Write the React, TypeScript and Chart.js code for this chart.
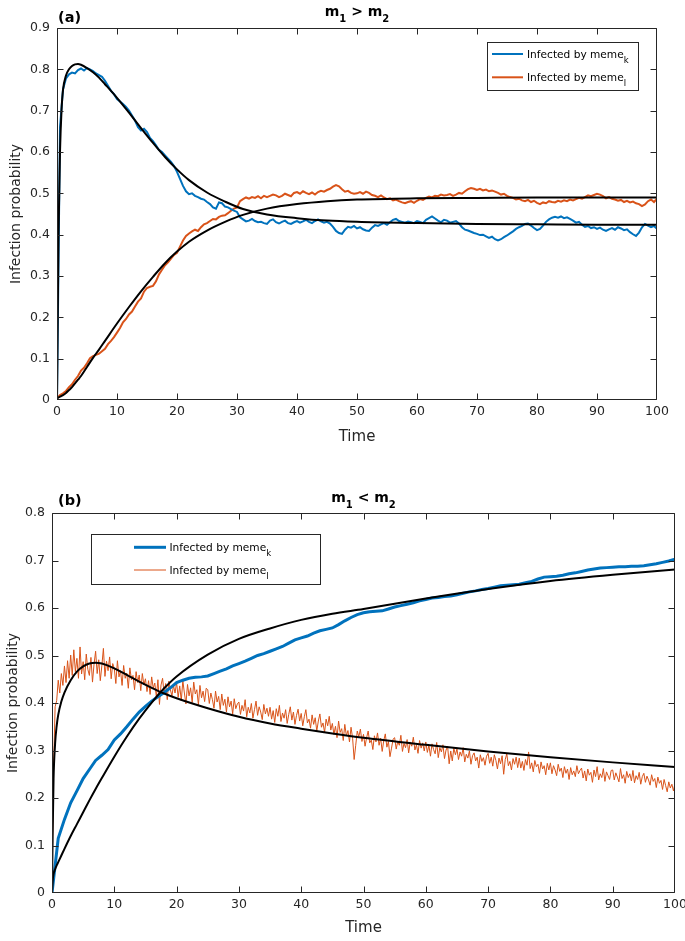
import React, { useEffect, useRef } from 'react';
import { Chart, registerables } from 'chart.js';

Chart.register(...registerables);

// ---------- DATA ----------
const X_MIN = 0;
const X_MAX = 100;
const X_STEP = 10;

// Panel (a): stochastic simulation, sampled every 0.5 time units
const A_DT = 0.5;
const A_BLUE = [
  0.000, 0.660, 0.752, 0.778, 0.788, 0.792, 0.790, 0.798, 0.802, 0.797,
  0.803, 0.800, 0.796, 0.790, 0.786, 0.782, 0.772, 0.760, 0.748, 0.740,
  0.728, 0.722, 0.716, 0.709, 0.700, 0.688, 0.676, 0.660, 0.652, 0.656,
  0.648, 0.634, 0.626, 0.616, 0.605, 0.600, 0.592, 0.584, 0.576, 0.566,
  0.552, 0.535, 0.518, 0.505, 0.498, 0.500, 0.494, 0.491, 0.487, 0.485,
  0.479, 0.474, 0.466, 0.463, 0.478, 0.476, 0.468, 0.466, 0.462, 0.458,
  0.455, 0.442, 0.437, 0.432, 0.434, 0.438, 0.433, 0.430, 0.431, 0.428,
  0.426, 0.434, 0.437, 0.430, 0.427, 0.431, 0.434, 0.428, 0.426, 0.430,
  0.433, 0.429, 0.432, 0.436, 0.431, 0.428, 0.433, 0.437, 0.432, 0.429,
  0.431, 0.427, 0.419, 0.409, 0.404, 0.402, 0.412, 0.419, 0.417, 0.421,
  0.415, 0.418, 0.413, 0.410, 0.409, 0.417, 0.423, 0.421, 0.425, 0.428,
  0.424, 0.430, 0.436, 0.438, 0.433, 0.431, 0.429, 0.432, 0.430, 0.428,
  0.433, 0.431, 0.428, 0.436, 0.440, 0.444, 0.439, 0.434, 0.430, 0.436,
  0.434, 0.429, 0.431, 0.433, 0.427, 0.418, 0.412, 0.410, 0.407, 0.404,
  0.402, 0.399, 0.400, 0.396, 0.392, 0.395, 0.389, 0.386, 0.389, 0.394,
  0.398, 0.403, 0.408, 0.414, 0.418, 0.421, 0.426, 0.427, 0.422, 0.416,
  0.411, 0.414, 0.422, 0.431, 0.437, 0.441, 0.443, 0.441, 0.444, 0.440,
  0.442, 0.438, 0.434, 0.429, 0.431, 0.424, 0.419, 0.421, 0.416, 0.418,
  0.414, 0.417, 0.412, 0.409, 0.413, 0.416, 0.412, 0.418, 0.415, 0.411,
  0.413, 0.406, 0.401, 0.397, 0.405, 0.418, 0.426, 0.422, 0.418, 0.421,
  0.414,
];
const A_ORANGE = [
  0.004, 0.012, 0.016, 0.022, 0.031, 0.038, 0.049, 0.058, 0.071, 0.078,
  0.089, 0.101, 0.106, 0.109, 0.112, 0.118, 0.124, 0.135, 0.143, 0.152,
  0.163, 0.174, 0.188, 0.196, 0.207, 0.214, 0.226, 0.238, 0.246, 0.262,
  0.271, 0.274, 0.276, 0.287, 0.304, 0.315, 0.326, 0.333, 0.342, 0.351,
  0.356, 0.371, 0.386, 0.397, 0.403, 0.408, 0.412, 0.409, 0.418, 0.425,
  0.428, 0.433, 0.438, 0.437, 0.443, 0.446, 0.447, 0.452, 0.458, 0.463,
  0.466, 0.481, 0.486, 0.490, 0.487, 0.491, 0.489, 0.493, 0.488, 0.494,
  0.491, 0.494, 0.497, 0.495, 0.491, 0.494, 0.499, 0.496, 0.493, 0.501,
  0.503, 0.499, 0.505, 0.501, 0.498, 0.502, 0.497, 0.503, 0.506, 0.504,
  0.508, 0.511, 0.516, 0.520, 0.517, 0.510, 0.504, 0.506, 0.501, 0.499,
  0.500, 0.503, 0.499, 0.504, 0.501, 0.496, 0.494, 0.491, 0.495, 0.490,
  0.486, 0.488, 0.483, 0.485, 0.481, 0.478, 0.476, 0.479, 0.481, 0.477,
  0.482, 0.486, 0.484, 0.489, 0.492, 0.490, 0.494, 0.493, 0.497, 0.495,
  0.496, 0.498, 0.494, 0.497, 0.501, 0.499, 0.505, 0.510, 0.513, 0.511,
  0.508, 0.511, 0.507, 0.509, 0.505, 0.507, 0.504, 0.501, 0.497, 0.499,
  0.494, 0.491, 0.489, 0.485, 0.487, 0.483, 0.481, 0.484, 0.479, 0.482,
  0.477, 0.474, 0.478, 0.476, 0.481, 0.479, 0.478, 0.482, 0.480, 0.483,
  0.481, 0.485, 0.483, 0.486, 0.489, 0.487, 0.491, 0.495, 0.493, 0.496,
  0.499, 0.497, 0.493, 0.488, 0.491, 0.487, 0.485, 0.482, 0.484, 0.479,
  0.482, 0.478, 0.480, 0.476, 0.474, 0.469, 0.473, 0.481, 0.485, 0.479,
  0.487,
];
// Panel (a): mean-field (ODE) curves
const A_BLACK_T = [0, 0.25, 0.5, 0.75, 1, 1.5, 2, 2.5, 3, 3.5, 4, 5, 6, 7, 8, 10, 12, 14, 16, 18, 20, 22, 25, 28, 31, 35, 40, 45, 50, 60, 70, 80, 90, 100];
const A_BLACK_K = [0, 0.40, 0.60, 0.70, 0.75, 0.785, 0.80, 0.808, 0.812, 0.813, 0.811, 0.803, 0.793, 0.780, 0.764, 0.731, 0.695, 0.658, 0.622, 0.588, 0.558, 0.532, 0.502, 0.480, 0.462, 0.449, 0.440, 0.434, 0.431, 0.428, 0.426, 0.425, 0.424, 0.424];
const A_BLACK_L = [0.005, 0.006, 0.008, 0.010, 0.012, 0.017, 0.024, 0.031, 0.040, 0.049, 0.058, 0.080, 0.102, 0.122, 0.143, 0.185, 0.225, 0.263, 0.298, 0.331, 0.359, 0.383, 0.410, 0.431, 0.448, 0.463, 0.474, 0.481, 0.485, 0.488, 0.489, 0.490, 0.490, 0.490];

// Panel (b): stochastic simulation
const B_BLUE_DT = 1;
const B_BLUE = [
  0.000, 0.115, 0.155, 0.190, 0.215, 0.241, 0.260, 0.279, 0.290, 0.302,
  0.322, 0.335, 0.350, 0.366, 0.381, 0.393, 0.404, 0.413, 0.422, 0.432,
  0.443, 0.448, 0.452, 0.454, 0.455, 0.457, 0.462, 0.467, 0.472, 0.478,
  0.483, 0.488, 0.494, 0.500, 0.504, 0.509, 0.514, 0.519, 0.526, 0.533,
  0.537, 0.541, 0.547, 0.552, 0.555, 0.558, 0.565, 0.573, 0.580, 0.586,
  0.590, 0.592, 0.593, 0.594, 0.598, 0.602, 0.605, 0.608, 0.611, 0.615,
  0.618, 0.621, 0.622, 0.624, 0.625, 0.628, 0.631, 0.634, 0.636, 0.639,
  0.641, 0.644, 0.647, 0.648, 0.649, 0.650, 0.653, 0.656, 0.661, 0.665,
  0.666, 0.667, 0.669, 0.672, 0.674, 0.677, 0.680, 0.682, 0.684, 0.685,
  0.686, 0.687, 0.687, 0.688, 0.688, 0.689, 0.691, 0.693, 0.696, 0.699,
  0.703,
];
const B_ORANGE_DT = 0.25;
const B_ORANGE = [
  0.000, 0.265, 0.392, 0.405, 0.448, 0.421, 0.462, 0.437, 0.478, 0.443, 0.489, 0.452, 0.501, 0.458, 0.512, 0.466, 0.494, 0.452, 0.518, 0.461,
  0.487, 0.449, 0.503, 0.471, 0.458, 0.496, 0.444, 0.482, 0.509, 0.462, 0.491, 0.447, 0.478, 0.515, 0.456, 0.488, 0.468, 0.497, 0.451, 0.483,
  0.472, 0.441, 0.489, 0.455, 0.468, 0.437, 0.479, 0.452, 0.463, 0.431, 0.474, 0.449, 0.458, 0.428, 0.466, 0.443, 0.459, 0.426, 0.462, 0.438,
  0.451, 0.424, 0.447, 0.418, 0.455, 0.431, 0.442, 0.413, 0.449, 0.397, 0.438, 0.452, 0.419, 0.441, 0.407, 0.446, 0.428, 0.415, 0.437, 0.421,
  0.443, 0.412, 0.436, 0.405, 0.447, 0.421, 0.398, 0.439, 0.415, 0.432, 0.401, 0.444, 0.419, 0.428, 0.396, 0.437, 0.411, 0.425, 0.403, 0.431,
  0.428, 0.399, 0.421, 0.407, 0.389, 0.425, 0.402, 0.414, 0.386, 0.419, 0.395, 0.408, 0.381, 0.413, 0.392, 0.404, 0.377, 0.409, 0.388, 0.398,
  0.402, 0.376, 0.395, 0.383, 0.407, 0.371, 0.391, 0.379, 0.399, 0.368, 0.386, 0.404, 0.374, 0.392, 0.381, 0.365, 0.397, 0.377, 0.389, 0.372,
  0.391, 0.366, 0.384, 0.359, 0.388, 0.372, 0.395, 0.361, 0.379, 0.368, 0.386, 0.357, 0.376, 0.392, 0.364, 0.381, 0.355, 0.374, 0.387, 0.362,
  0.378, 0.352, 0.371, 0.386, 0.358, 0.366, 0.347, 0.375, 0.355, 0.369, 0.341, 0.362, 0.377, 0.349, 0.358, 0.338, 0.366, 0.352, 0.372, 0.343,
  0.357, 0.334, 0.351, 0.327, 0.362, 0.338, 0.346, 0.321, 0.355, 0.331, 0.342, 0.318, 0.349, 0.326, 0.281, 0.311, 0.341, 0.329, 0.345, 0.319,
  0.334, 0.309, 0.327, 0.341, 0.316, 0.322, 0.302, 0.331, 0.318, 0.337, 0.311, 0.326, 0.298, 0.321, 0.335, 0.307, 0.319, 0.287, 0.305, 0.324,
  0.327, 0.303, 0.319, 0.311, 0.332, 0.298, 0.315, 0.306, 0.323, 0.295, 0.318, 0.309, 0.328, 0.301, 0.312, 0.294, 0.321, 0.305, 0.316, 0.299,
  0.318, 0.296, 0.311, 0.288, 0.314, 0.302, 0.293, 0.317, 0.285, 0.306, 0.297, 0.312, 0.283, 0.301, 0.309, 0.272, 0.299, 0.278, 0.305, 0.291,
  0.303, 0.281, 0.297, 0.288, 0.306, 0.276, 0.292, 0.284, 0.299, 0.271, 0.289, 0.295, 0.278, 0.286, 0.263, 0.291, 0.277, 0.285, 0.269, 0.288,
  0.294, 0.273, 0.286, 0.267, 0.291, 0.279, 0.261, 0.284, 0.272, 0.289, 0.250, 0.281, 0.293, 0.268, 0.277, 0.259, 0.283, 0.271, 0.286, 0.264,
  0.284, 0.263, 0.277, 0.258, 0.281, 0.269, 0.297, 0.262, 0.274, 0.255, 0.279, 0.266, 0.271, 0.252, 0.276, 0.261, 0.268, 0.249, 0.273, 0.259,
  0.274, 0.251, 0.268, 0.259, 0.247, 0.271, 0.256, 0.263, 0.243, 0.266, 0.252, 0.261, 0.239, 0.264, 0.249, 0.257, 0.245, 0.268, 0.251, 0.258,
  0.263, 0.242, 0.257, 0.236, 0.261, 0.248, 0.254, 0.233, 0.259, 0.245, 0.266, 0.238, 0.251, 0.243, 0.262, 0.235, 0.255, 0.247, 0.239, 0.258,
  0.259, 0.238, 0.253, 0.244, 0.234, 0.262, 0.241, 0.249, 0.231, 0.256, 0.243, 0.251, 0.236, 0.258, 0.232, 0.247, 0.239, 0.254, 0.229, 0.245,
  0.252, 0.233, 0.246, 0.238, 0.227, 0.249, 0.235, 0.241, 0.222, 0.244, 0.231, 0.237, 0.218, 0.239, 0.226, 0.213, 0.234, 0.221, 0.229, 0.215,
  0.231,
];
const B_BLACK_T = [0, 0.1, 0.25, 0.5, 0.75, 1, 1.5, 2, 3, 4, 5, 6, 7, 8, 10, 12, 14, 16, 18, 20, 25, 30, 35, 40, 45, 50, 60, 70, 80, 90, 100];
const B_BLACK_K = [0, 0.025, 0.04, 0.05, 0.058, 0.065, 0.079, 0.093, 0.12, 0.145, 0.17, 0.195, 0.219, 0.242, 0.287, 0.329, 0.367, 0.401, 0.431, 0.456, 0.502, 0.535, 0.557, 0.575, 0.588, 0.598, 0.62, 0.64, 0.657, 0.67, 0.681];
const B_BLACK_L = [0, 0.12, 0.24, 0.315, 0.352, 0.375, 0.403, 0.422, 0.448, 0.466, 0.477, 0.483, 0.485, 0.483, 0.473, 0.459, 0.445, 0.432, 0.42, 0.41, 0.389, 0.371, 0.357, 0.346, 0.336, 0.327, 0.312, 0.298, 0.286, 0.275, 0.265];

const A_Y_MAX = 0.9;
const B_Y_MAX = 0.8;
const Y_STEP = 0.1;

const LEGEND_LABEL = 'Infected by meme';
const LEGEND_SUBS = ['k', 'l'];
const X_TITLE = 'Time';
const Y_TITLE = 'Infection probability';

// ---------- STYLE ----------
const BLUE = '#0072BD';
const ORANGE = '#D95319';
const AXIS = '#262626';
const FONT = '"DejaVu Sans", "Liberation Sans", sans-serif';
const TICK_LEN = 6;

const sampled = (vals: number[], dt: number) => vals.map((v, i) => ({ x: i * dt, y: v }));
const paired = (ts: number[], vals: number[]) => ts.map((t, i) => ({ x: t, y: vals[i] }));

type Part = { t: string; sub?: boolean };

function richWidth(ctx: CanvasRenderingContext2D, parts: Part[], font: string, subFont: string) {
  let w = 0;
  for (const p of parts) {
    ctx.font = p.sub ? subFont : font;
    w += ctx.measureText(p.t).width;
  }
  return w;
}

function drawRich(ctx: CanvasRenderingContext2D, parts: Part[], x: number, baseline: number, font: string, subFont: string, subDy: number) {
  let cx = x;
  ctx.textAlign = 'left';
  ctx.textBaseline = 'alphabetic';
  for (const p of parts) {
    ctx.font = p.sub ? subFont : font;
    ctx.fillText(p.t, cx, p.sub ? baseline + subDy : baseline);
    cx += ctx.measureText(p.t).width;
  }
}

const decoPlugin = {
  id: 'deco',
  afterDatasetsDraw(chart: any, _args: any, o: any) {
    const { ctx, chartArea: a, scales } = chart;
    const xs = scales.x;
    const ys = scales.y;
    ctx.save();
    ctx.strokeStyle = AXIS;
    ctx.lineWidth = 1;
    const L = Math.round(a.left) + 0.5;
    const R = Math.round(a.right) - 0.5;
    const T = Math.round(a.top) + 0.5;
    const B = Math.round(a.bottom) - 0.5;
    ctx.beginPath();
    ctx.rect(L, T, R - L, B - T);
    for (const t of xs.ticks) {
      const p = Math.min(R, Math.max(L, Math.round(xs.getPixelForValue(t.value)) + 0.5));
      ctx.moveTo(p, B); ctx.lineTo(p, B - TICK_LEN);
      ctx.moveTo(p, T); ctx.lineTo(p, T + TICK_LEN);
    }
    for (const t of ys.ticks) {
      const p = Math.min(B, Math.max(T, Math.round(ys.getPixelForValue(t.value)) + 0.5));
      ctx.moveTo(L, p); ctx.lineTo(L + TICK_LEN, p);
      ctx.moveTo(R, p); ctx.lineTo(R - TICK_LEN, p);
    }
    ctx.stroke();

    // legend
    const lg = o.legend;
    ctx.fillStyle = '#ffffff';
    ctx.fillRect(lg.x, lg.y, lg.w, lg.h);
    ctx.strokeStyle = AXIS;
    ctx.lineWidth = 1;
    ctx.strokeRect(lg.x + 0.5, lg.y + 0.5, lg.w, lg.h);
    lg.rows.forEach((row: any) => {
      ctx.strokeStyle = row.color;
      ctx.lineWidth = row.width;
      ctx.beginPath();
      ctx.moveTo(lg.lineX1, row.y);
      ctx.lineTo(lg.lineX2, row.y);
      ctx.stroke();
      ctx.fillStyle = '#000000';
      drawRich(ctx, [{ t: LEGEND_LABEL }, { t: row.sub, sub: true }], lg.textX, row.y + 4,
        `${lg.fontSize}px ${FONT}`, `${lg.subSize}px ${FONT}`, 5);
    });

    // title and panel label
    const tf = `bold 14px ${FONT}`;
    const sf = `bold 10px ${FONT}`;
    const tw = richWidth(ctx, o.title, tf, sf);
    ctx.fillStyle = '#000000';
    drawRich(ctx, o.title, (a.left + a.right) / 2 - tw / 2, o.titleBaseline, tf, sf, 6);
    ctx.font = `bold 14.5px ${FONT}`;
    ctx.textAlign = 'left';
    ctx.fillText(o.label, o.labelX, o.labelBaseline);
    ctx.restore();
  },
};

function makeConfig(p: any) {
  const tickFont = { family: FONT, size: 12.5 };
  return {
    type: 'line',
    data: { datasets: p.datasets },
    options: {
      animation: false,
      responsive: false,
      maintainAspectRatio: false,
      events: [],
      layout: { padding: { left: 0, top: p.padTop, right: p.padRight, bottom: 0 } },
      elements: { point: { radius: 0 } },
      plugins: {
        legend: { display: false },
        title: { display: false },
        tooltip: { enabled: false },
        deco: p.deco,
      },
      scales: {
        x: {
          type: 'linear',
          min: X_MIN,
          max: X_MAX,
          ticks: { stepSize: X_STEP, padding: 4, font: tickFont, color: AXIS, maxRotation: 0, autoSkip: false, callback: (v: any) => String(v) },
          grid: { display: false, drawTicks: false },
          border: { display: false },
          title: { display: true, text: X_TITLE, color: AXIS, font: { family: FONT, size: 15 }, padding: { top: 0, bottom: p.xTitlePad } },
          afterFit: (s: any) => { s.height = p.xAxisH; s.paddingLeft = 0; s.paddingRight = 0; },
        },
        y: {
          type: 'linear',
          min: 0,
          max: p.yMax,
          ticks: { stepSize: Y_STEP, padding: 7, font: tickFont, color: AXIS, callback: (v: any) => (Math.abs(v) < 1e-9 ? '0' : Number(v).toFixed(1)) },
          grid: { display: false, drawTicks: false },
          border: { display: false },
          title: { display: true, text: Y_TITLE, color: AXIS, font: { family: FONT, size: 14 }, padding: { top: p.yTitlePad, bottom: 0 } },
          afterFit: (s: any) => { s.width = p.yAxisW; s.paddingTop = 0; s.paddingBottom = 0; },
        },
      },
    },
    plugins: [decoPlugin],
  };
}

const blackDs = (data: any[]) => ({
  data, borderColor: '#000000', borderWidth: 2, pointRadius: 0, fill: false, cubicInterpolationMode: 'monotone',
});

const configA = () => makeConfig({
  padTop: 28, padRight: 28, yAxisW: 57, xAxisH: 70, xTitlePad: 24, yTitlePad: 8, yMax: A_Y_MAX,
  datasets: [
    blackDs(paired(A_BLACK_T, A_BLACK_K)),
    blackDs(paired(A_BLACK_T, A_BLACK_L)),
    { data: sampled(A_BLUE, A_DT), borderColor: BLUE, borderWidth: 2, pointRadius: 0, tension: 0, fill: false },
    { data: sampled(A_ORANGE, A_DT), borderColor: ORANGE, borderWidth: 2, pointRadius: 0, tension: 0, fill: false },
  ],
  deco: {
    title: [{ t: 'm' }, { t: '1', sub: true }, { t: ' > m' }, { t: '2', sub: true }],
    titleBaseline: 15.5,
    label: '(a)', labelX: 58, labelBaseline: 22,
    legend: {
      x: 487, y: 42, w: 151, h: 48, lineX1: 492, lineX2: 523, textX: 527, fontSize: 10.6, subSize: 8.5,
      rows: [
        { y: 54, color: BLUE, width: 2, sub: LEGEND_SUBS[0] },
        { y: 77.3, color: ORANGE, width: 2, sub: LEGEND_SUBS[1] },
      ],
    },
  },
});

const configB = () => makeConfig({
  padTop: 43, padRight: 10, yAxisW: 52, xAxisH: 48, xTitlePad: 4, yTitlePad: 5, yMax: B_Y_MAX,
  datasets: [
    blackDs(paired(B_BLACK_T, B_BLACK_K)),
    blackDs(paired(B_BLACK_T, B_BLACK_L)),
    { data: sampled(B_BLUE, B_BLUE_DT), borderColor: BLUE, borderWidth: 3, pointRadius: 0, tension: 0, fill: false },
    { data: sampled(B_ORANGE, B_ORANGE_DT), borderColor: ORANGE, borderWidth: 1, pointRadius: 0, tension: 0, fill: false },
  ],
  deco: {
    title: [{ t: 'm' }, { t: '1', sub: true }, { t: ' < m' }, { t: '2', sub: true }],
    titleBaseline: 32,
    label: '(b)', labelX: 58, labelBaseline: 35,
    legend: {
      x: 91, y: 64, w: 229, h: 50, lineX1: 134, lineX2: 166, textX: 169.5, fontSize: 10.6, subSize: 8.5,
      rows: [
        { y: 77.3, color: BLUE, width: 3, sub: LEGEND_SUBS[0] },
        { y: 100, color: ORANGE, width: 1, sub: LEGEND_SUBS[1] },
      ],
    },
  },
});

function Panel({ make, height }: { make: () => any; height: number }) {
  const ref = useRef<HTMLCanvasElement | null>(null);
  useEffect(() => {
    if (!ref.current) return;
    const chart = new Chart(ref.current, make());
    return () => chart.destroy();
  }, [make]);
  return <canvas ref={ref} width={685} height={height} style={{ display: 'block', width: 685, height }} />;
}

export default function App() {
  return (
    <div style={{ position: 'absolute', left: 0, top: 0, width: 685, height: 941, background: '#ffffff' }}>
      <Panel make={configA} height={470} />
      <Panel make={configB} height={471} />
    </div>
  );
}
